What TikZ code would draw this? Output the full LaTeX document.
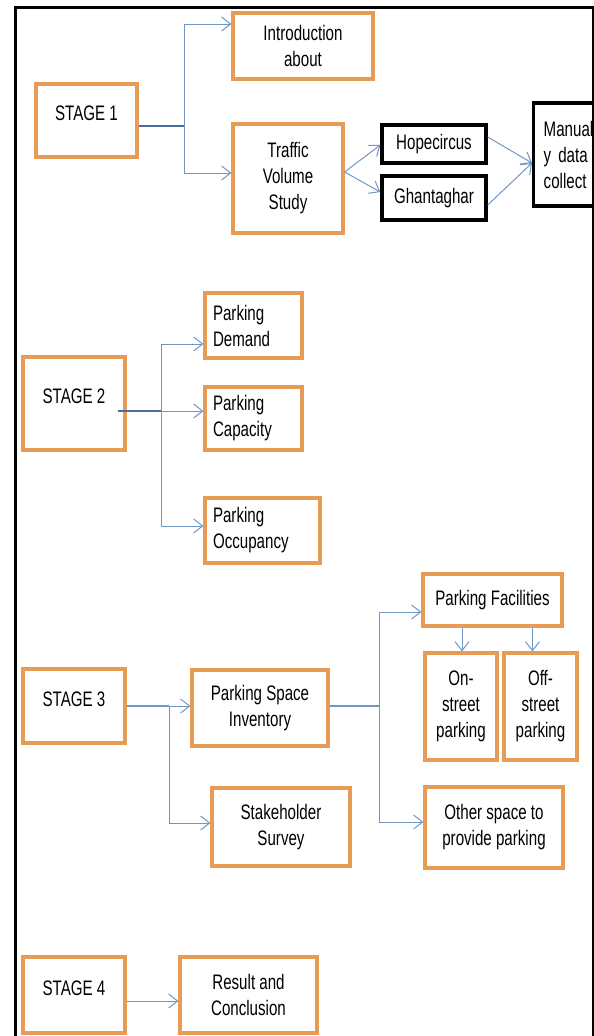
\documentclass[tikz,border=0pt]{standalone}
\usepackage{fontspec}
\setmainfont{Liberation Sans}[FakeStretch=0.72]
\usetikzlibrary{arrows.meta}
\definecolor{boxorange}{RGB}{232,155,84}
\definecolor{linkblue}{RGB}{112,150,196}
\definecolor{trunkblue}{RGB}{72,108,160}
\begin{document}
\begin{tikzpicture}[x=1pt, y=-1pt,
    box/.style={draw=boxorange, line width=3.2pt, align=center, inner sep=2pt, font=\fontsize{21}{26}\selectfont},
    stagebox/.style={box, minimum width=102pt, text height=15pt, text depth=15pt},
    blackbox/.style={box, draw=black, line width=3.4pt},
    leftbox/.style={box, align=left, inner xsep=8pt},
    link/.style={draw=linkblue, line width=1pt, -{Straight Barb[length=9pt,width=14pt]}},
    line/.style={draw=linkblue, line width=1.3pt},
    trunk/.style={draw=trunkblue, line width=2pt}]
  \useasboundingbox (0,0) rectangle (594,1036);
  \clip (0,0) rectangle (594,1036);
  \draw [line width=3pt] (15,7) rectangle (593,1060);

  % stage 1
  \node [stagebox, minimum width=101pt, minimum height=73pt] (s1) at (86.5,120.5) {STAGE 1};
  \node [box, minimum width=140pt, minimum height=66pt] (intro) at (303,46) {Introduction\\about};
  \node [box, minimum width=110pt, minimum height=109pt] (traffic) at (288,178.5) {Traffic\\Volume\\Study};
  \node [blackbox, minimum width=104pt, minimum height=38pt] (hope) at (434,144) {Hopecircus};
  \node [blackbox, minimum width=104pt, minimum height=44pt] (ghanta) at (434,198) {Ghantaghar};
  \node [blackbox, anchor=west, align=left, text width=90pt, inner xsep=10pt, minimum height=103pt] (manual) at (532,154.5) {Manuall\\y data\\collect};
  \coordinate (j1) at (184,126);
  \draw [trunk] (s1.east |- j1) -- (j1);
  \draw [link] (j1) |- ([yshift=22pt]intro.west);
  \draw [link] (j1) |- ([yshift=5.5pt]traffic.west);
  \draw [link] ([yshift=6.5pt]traffic.east) -- ([yshift=-1pt]hope.west);
  \draw [link] ([yshift=6.5pt]traffic.east) -- ([yshift=6pt]ghanta.west);
  \draw [link] ([yshift=7pt]hope.east) -- ([yshift=-8.5pt]manual.west);
  \draw [link] ([yshift=-7pt]ghanta.east) -- ([yshift=-8.5pt]manual.west);

  % stage 2
  \node [stagebox, minimum height=93pt] (s2) at (74,403.5) {STAGE 2};
  \node [leftbox, text width=81pt, minimum height=65pt] (demand) at (253.5,325.5) {Parking\\Demand};
  \node [leftbox, text width=81pt, minimum height=63pt] (capacity) at (253.5,418.5) {Parking\\Capacity};
  \node [leftbox, text width=99pt, minimum height=65pt] (occupancy) at (262.5,530.5) {Parking\\Occupancy};
  \coordinate (t2) at (118,411);
  \coordinate (j2) at (161,411);
  \draw [trunk] (t2) -- (j2);
  \draw [link] (j2) |- ([yshift=-18.5pt]demand.west);
  \draw [link] (j2) |- ([yshift=7.5pt]capacity.west);
  \draw [link] (j2) |- ([yshift=4.5pt]occupancy.west);

  % stage 3
  \node [stagebox, minimum height=74pt] (s3) at (74,706) {STAGE 3};
  \node [box, minimum width=136pt, minimum height=76pt] (psi) at (260,708) {Parking Space\\Inventory};
  \node [box, minimum width=138pt, minimum height=78pt] (stake) at (281,827) {Stakeholder\\Survey};
  \node [box, minimum width=139pt, minimum height=52pt] (facil) at (492.5,600) {Parking Facilities};
  \node [box, minimum width=72pt, minimum height=107pt] (onst) at (461,706.5) {On-\\street\\parking};
  \node [box, minimum width=73pt, minimum height=107pt] (offst) at (540.5,706.5) {Off-\\street\\parking};
  \node [box, minimum width=138pt, minimum height=81pt] (other) at (494,827.5) {Other space to\\provide parking};
  \coordinate (j3) at (169,706);
  \coordinate (j4) at (379,706);
  \draw [line] (s3.east) -- (j3);
  \draw [link] (j3) -- (psi.west |- j3);
  \draw [link] (j3) |- ([yshift=4pt]stake.west);
  \draw [line] (psi.east |- j4) -- (j4);
  \draw [link] (j4) |- ([yshift=-12pt]facil.west);
  \draw [link] (j4) |- ([yshift=5.5pt]other.west);
  \coordinate (onin) at ([xshift=1pt]onst.north);
  \coordinate (offin) at ([xshift=-8pt]offst.north);
  \draw [link] (facil.south -| onin) -- (onin);
  \draw [link] (facil.south -| offin) -- (offin);

  % stage 4
  \node [stagebox, minimum height=76pt] (s4) at (74,995) {STAGE 4};
  \node [box, minimum width=137pt, minimum height=76pt] (result) at (248.5,995) {Result and\\Conclusion};
  \draw [link] ([yshift=-6pt]s4.east) -- ([yshift=-6pt]result.west);
\end{tikzpicture}
\end{document}
